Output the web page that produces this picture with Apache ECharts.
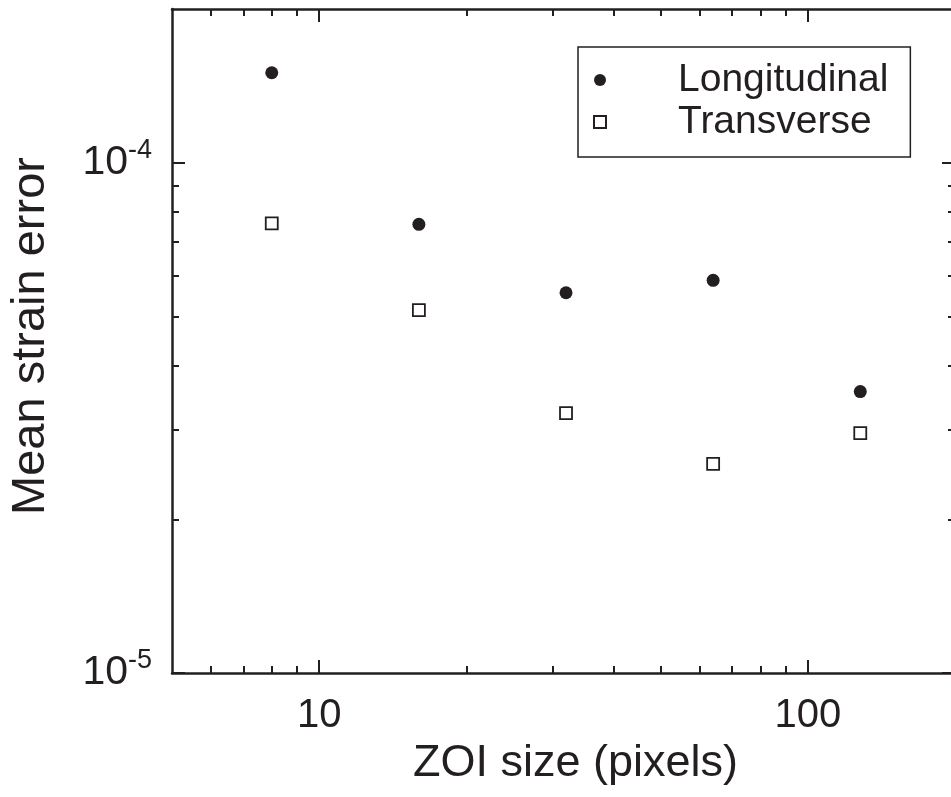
<!DOCTYPE html>
<html>
<head>
<meta charset="utf-8">
<script src="https://cdn.jsdelivr.net/npm/echarts@6/dist/echarts.min.js"></script>
<style>
html,body{margin:0;padding:0;background:#fff;}
#chart{width:951px;height:797px;}
</style>
</head>
<body>
<div id="chart"></div>
<script>
// ZOI sizes (pixels)
var zoiSizes = [8, 16, 32, 64, 128];
// Mean strain error
var longitudinal = [1.50e-4, 7.57e-5, 5.56e-5, 5.88e-5, 3.56e-5];
var transverse = [7.60e-5, 5.14e-5, 3.23e-5, 2.57e-5, 2.95e-5];
// axis ticks
var xMajorTicks = [10, 100];
var xMinorTicks = [6, 7, 8, 9, 20, 30, 40, 50, 60, 70, 80, 90];
var yMajorTicks = [1e-5, 1e-4];
var yMinorTicks = [2e-5, 3e-5, 4e-5, 5e-5, 6e-5, 7e-5, 8e-5, 9e-5];

var INK = '#231f20';
var FONT = 'Liberation Sans, Arial, Helvetica, sans-serif';

function pairs(xs, ys) {
  return xs.map(function (x, i) { return [x, ys[i]]; });
}

function xAx(pos, major, withLabels) {
  return {
    type: 'log', logBase: 10, min: 5, max: 200, position: pos,
    axisLine: { show: major, lineStyle: { color: INK, width: 2.5 } },
    axisTick: {
      show: true, inside: true, length: major ? 13 : 7,
      lineStyle: { color: INK, width: 2 },
      customValues: major ? xMajorTicks : xMinorTicks
    },
    axisLabel: withLabels ? {
      show: true, customValues: xMajorTicks, margin: 23,
      fontSize: 40, fontFamily: FONT, color: INK,
      formatter: function (v) { return String(Math.round(v)); }
    } : { show: false },
    splitLine: { show: false },
    name: withLabels ? 'ZOI size (pixels)' : '',
    nameLocation: 'middle', nameGap: 68,
    nameTextStyle: { fontSize: 45, fontFamily: FONT, color: INK, padding: [0, 0, 0, 24] }
  };
}
function yAx(pos, major, withLabels) {
  return {
    type: 'log', logBase: 10, min: 1e-5, max: 2e-4, position: pos,
    axisLine: { show: major, lineStyle: { color: INK, width: 2.5 } },
    axisTick: {
      show: true, inside: true, length: major ? 13 : 7,
      lineStyle: { color: INK, width: 2 },
      customValues: major ? yMajorTicks : yMinorTicks
    },
    axisLabel: withLabels ? {
      show: true, customValues: yMajorTicks, margin: 20,
      formatter: function (v) {
        var e = Math.round(Math.log10(v));
        return '{b|10}{s|' + e + '}';
      },
      rich: {
        b: { fontSize: 41, fontFamily: FONT, color: INK },
        s: { fontSize: 27, fontFamily: FONT, color: INK, padding: [0, 0, 24, 0] }
      }
    } : { show: false },
    splitLine: { show: false },
    name: withLabels ? 'Mean strain error' : '',
    nameLocation: 'middle', nameGap: 117, nameRotate: 90,
    nameTextStyle: { fontSize: 47, fontFamily: FONT, color: INK, padding: [0, 0, 0, 10] }
  };
}

var chart = echarts.init(document.getElementById('chart'), null, { renderer: 'canvas' });
chart.setOption({
  animation: false,
  backgroundColor: '#fff',
  grid: { left: 172, right: -4, top: 9, bottom: 124, outerBoundsMode: 'none' },
  xAxis: [xAx('bottom', true, true), xAx('bottom', false, false), xAx('top', true, false), xAx('top', false, false)],
  yAxis: [yAx('left', true, true), yAx('left', false, false), yAx('right', true, false), yAx('right', false, false)],
  legend: {
    orient: 'vertical', left: 578, top: 47,
    padding: [13, 22, 15, 15],
    borderColor: INK, borderWidth: 1.5, borderRadius: 0,
    itemWidth: 12, itemHeight: 12, itemGap: 2,
    textStyle: { fontSize: 39, fontFamily: FONT, color: INK, lineHeight: 40, padding: [0, 0, 0, 67] },
    data: ['Longitudinal', 'Transverse']
  },
  series: [
    {
      name: 'Longitudinal', type: 'scatter', symbol: 'circle', symbolSize: 13,
      itemStyle: { color: INK, opacity: 1 },
      data: pairs(zoiSizes, longitudinal)
    },
    {
      name: 'Transverse', type: 'scatter', symbol: 'rect', symbolSize: 12,
      itemStyle: { color: '#fff', borderColor: INK, borderWidth: 1.8, opacity: 1 },
      data: pairs(zoiSizes, transverse)
    }
  ]
});
</script>
</body>
</html>
